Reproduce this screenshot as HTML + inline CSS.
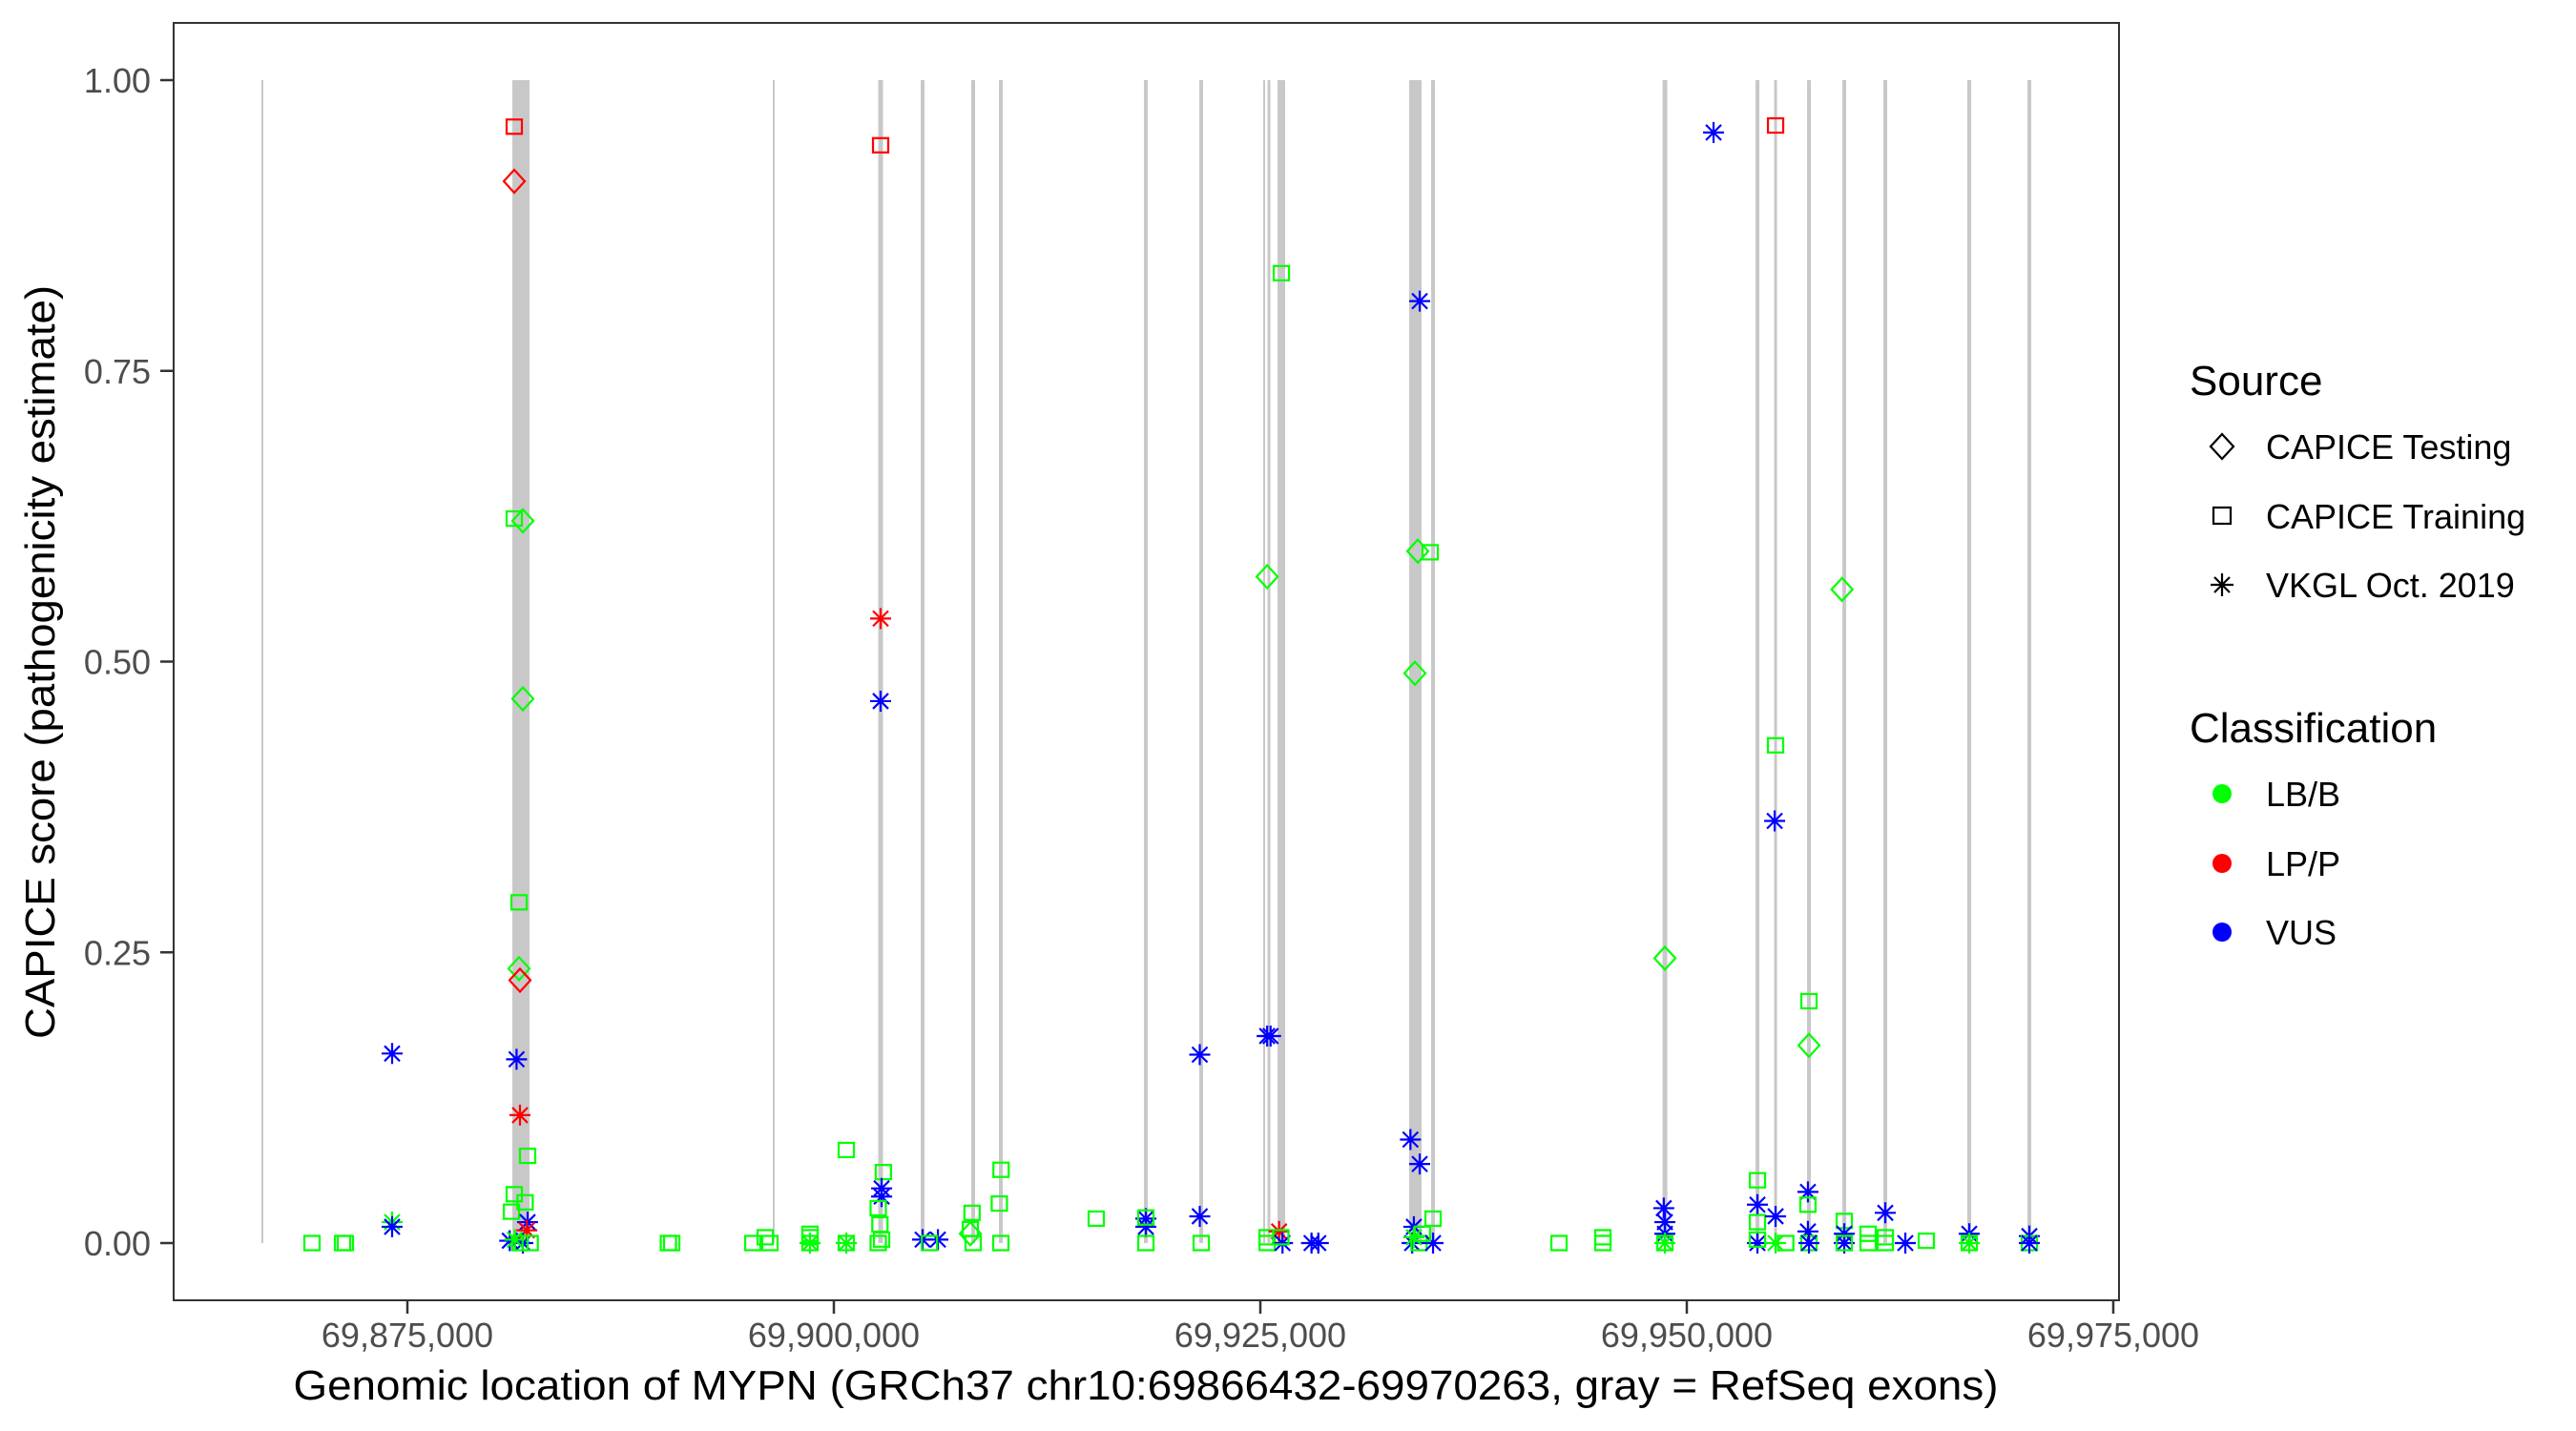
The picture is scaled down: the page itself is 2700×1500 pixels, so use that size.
<!DOCTYPE html>
<html><head><meta charset="utf-8">
<style>
html,body{margin:0;padding:0;background:#fff;}
svg{display:block;font-family:"Liberation Sans",Arial,sans-serif;}
</style></head>
<body>
<svg id="chart" xmlns="http://www.w3.org/2000/svg" width="2700" height="1500" viewBox="0 0 2700 1500">
<rect x="0" y="0" width="2700" height="1500" fill="#fff"/>
<g id="exons"></g>
<g id="points"></g>
<rect x="182" y="24" width="2039" height="1339" fill="none" stroke="#333333" stroke-width="2"/>
<g id="axes"></g>
<text x="1201" y="1467" font-size="44" text-anchor="middle" textLength="1787" lengthAdjust="spacingAndGlyphs" fill="#000">Genomic location of MYPN (GRCh37 chr10:69866432-69970263, gray = RefSeq exons)</text>
<text transform="translate(57,694) rotate(-90)" x="0" y="0" font-size="44" text-anchor="middle" textLength="790" lengthAdjust="spacingAndGlyphs" fill="#000">CAPICE score (pathogenicity estimate)</text>
<g id="legend">
  <text x="2295" y="414" font-size="44" fill="#000">Source</text>
  <g>
    <polygon points="2329,455 2341,468 2329,481 2317,468" fill="none" stroke="#000" stroke-width="2.2"/>
    <text x="2375" y="481" font-size="36" fill="#000">CAPICE Testing</text>
  </g>
  <g>
    <rect x="2320" y="532" width="18" height="17" fill="none" stroke="#000" stroke-width="2.2"/>
    <text x="2375" y="554" font-size="36" fill="#000">CAPICE Training</text>
  </g>
  <g>
    <path d="M2317,613H2341M2329,601V625M2321,605L2337,621M2337,605L2321,621" stroke="#000" stroke-width="2.2"/>
    <text x="2375" y="626" font-size="36" fill="#000">VKGL Oct. 2019</text>
  </g>
  <text x="2295" y="778" font-size="44" fill="#000">Classification</text>
  <g>
    <circle cx="2329" cy="832" r="10" fill="#00ff00"/>
    <text x="2375" y="845" font-size="36" fill="#000">LB/B</text>
  </g>
  <g>
    <circle cx="2329" cy="905" r="10" fill="#ff0000"/>
    <text x="2375" y="918" font-size="36" fill="#000">LP/P</text>
  </g>
  <g>
    <circle cx="2329" cy="977" r="10" fill="#0000ff"/>
    <text x="2375" y="990" font-size="36" fill="#000">VUS</text>
  </g>
</g>
</svg>
<script>
const xTicks = [69875000, 69900000, 69925000, 69950000, 69975000];
const xTickLabels = ["69,875,000", "69,900,000", "69,925,000", "69,950,000", "69,975,000"];
const yTicks = [0, 0.25, 0.5, 0.75, 1.0];
const yTickLabels = ["0.00", "0.25", "0.50", "0.75", "1.00"];
const exonStarts = [69866443,69881152,69896421,69902601,69905090,69908054,69909676,69918178,69921422,69925169,69925421,69926007,69933727,69935013,69948576,69954029,69955120,69957049,69959119,69961524,69966446,69969969];
const exonEnds   = [69866555,69882159,69896533,69902881,69905314,69908278,69909900,69918402,69921646,69925281,69925589,69926456,69934454,69935237,69948856,69954253,69955288,69957273,69959343,69961748,69966670,69970193];
const pointPos = [69869407,69871365,69871200,69874105,69874105,69874105,69881264,69881264,69881264,69881768,69881768,69881544,69881544,69881600,69881400,69881600,69882047,69881264,69881900,69881100,69882047,69882000,69881000,69881768,69881600,69882200,69881300,69890493,69890300,69895247,69895974,69896253,69898602,69898602,69898602,69898602,69900728,69900728,69900728,69902741,69902741,69902741,69902900,69902800,69902800,69902600,69902700,69902600,69902800,69905202,69906100,69905600,69908000,69908100,69908166,69908000,69909800,69909700,69909788,69915381,69918290,69918290,69918290,69918290,69921450,69921450,69921534,69925400,69925600,69925400,69925400,69925400,69926232,69926100,69926300,69926200,69928000,69928400,69934342,69934230,69934957,69934062,69933800,69934342,69934000,69933900,69934300,69934000,69935125,69935125,69934500,69942508,69945080,69945080,69948716,69948650,69948716,69948716,69948716,69948716,69951568,69954141,69954141,69954141,69954141,69954141,69955204,69955204,69955150,69955204,69955204,69955800,69957161,69957161,69957100,69957100,69957100,69957161,69957161,69959100,69959231,69959231,69959231,69959231,69960629,69960629,69961636,69961636,69961636,69962810,69964041,69966558,69966558,69966558,69970081,69970081,69970081];
const pointScore = [0,0,0,0.018,0.014,0.163,0.960,0.913,0.623,0.621,0.468,0.293,0.236,0.226,0.158,0.110,0.075,0.042,0.035,0.027,0.018,0.011,0.002,0,0,0,0.003,0,0,0,0.005,0,0,0.005,0.008,0,0,0,0.080,0.944,0.537,0.466,0.061,0.047,0.040,0.030,0.016,0,0.003,0.003,0.003,0,0.008,0.026,0,0.012,0.063,0.034,0,0.021,0.021,0.014,0,0.022,0.162,0.023,0,0.178,0.178,0.573,0.005,0,0.834,0.010,0,0.005,0,0,0.810,0.595,0.594,0.490,0.089,0.068,0.014,0,0,0.005,0.021,0,0.008,0,0.005,0,0.245,0.030,0.018,0.008,0,0,0.955,0.054,0.033,0.018,0,0.003,0.961,0.428,0.363,0.023,0,0,0.208,0.170,0.044,0.033,0.010,0,0,0.562,0.019,0.008,0,0,0.008,0,0.026,0.005,0,0,0.002,0.008,0,0,0.006,0,0];
const pointSource = [
 "R","R","R","V","V","V","R","T","R","T",
 "T","R","T","T","V","V","R","R","R","R",
 "V","V","V","V","R","R","V","R","R","R",
 "R","R","R","R","R","V","R","V","R","R",
 "V","V","R","V","V","R","R","R","R","V",
 "V","R","T","R","R","R","R","R","R","R",
 "V","V","R","R","V","V","R","V","V","T",
 "R","R","R","V","V","R","V","V","V","T",
 "R","T","V","V","V","V","R","V","R","V",
 "R","R","R","R","T","V","V","V","V","R",
 "V","R","V","R","V","R","R","R","V","V",
 "V","R","R","T","V","R","V","R","V","T",
 "R","V","V","R","R","R","V","R","R","V",
 "R","V","V","R","V","R","V"];
const pointClass = [
 "G","G","G","G","B","B","R","R","G","G",
 "G","G","G","R","B","R","G","G","G","G",
 "B","R","B","B","G","G","G","G","G","G",
 "G","G","G","G","G","G","G","G","G","R",
 "R","B","G","B","B","G","G","G","G","B",
 "B","G","G","G","G","G","G","G","G","G",
 "B","B","G","G","B","B","G","B","B","G",
 "G","G","G","R","B","G","B","B","B","G",
 "G","G","B","B","B","B","G","G","G","B",
 "G","G","G","G","G","B","B","B","G","G",
 "B","G","B","G","B","G","R","G","B","B",
 "G","G","G","G","B","G","B","G","B","G",
 "G","B","B","G","G","G","B","G","G","B",
 "G","B","G","G","B","G","B"];
const sourceNames = {T:"capice-testing", R:"capice-training", V:"vkgl"};
const classColors = {G:"#00ff00", R:"#ff0000", B:"#0000ff"};

const X = g => 427 + (g - 69875000) * 0.01788;
const Y = s => 1303 - s * 1219;
const NS = "http://www.w3.org/2000/svg";
function mk(tag, attrs, parent){
  const e = document.createElementNS(NS, tag);
  for (const k in attrs) e.setAttribute(k, attrs[k]);
  parent.appendChild(e); return e;
}
const exG = document.getElementById("exons");
for (let i = 0; i < exonStarts.length; i++) {
  const x0 = X(exonStarts[i]), x1 = X(exonEnds[i]);
  const r = mk("rect", {x: x0, y: Y(1), width: Math.max(2, x1 - x0), height: Y(0) - Y(1), fill: "#c8c8c8"}, exG);
  
  
}
const ax = document.getElementById("axes");
for (let i = 0; i < xTicks.length; i++) {
  const x = X(xTicks[i]);
  const t = mk("line", {x1: x, x2: x, y1: 1363, y2: 1377, stroke: "#333333", "stroke-width": 2.5}, ax);
  
  
  const l = mk("text", {x: x, y: 1412, "font-size": 36, fill: "#4d4d4d", "text-anchor": "middle"}, ax);
  l.textContent = xTickLabels[i];
  
  
}
for (let i = 0; i < yTicks.length; i++) {
  const y = Y(yTicks[i]);
  const t = mk("line", {x1: 168, x2: 182, y1: y, y2: y, stroke: "#333333", "stroke-width": 2.5}, ax);
  
  
  const l = mk("text", {x: 158, y: y + 13, "font-size": 36, fill: "#4d4d4d", "text-anchor": "end"}, ax);
  l.textContent = yTickLabels[i];
  
  
}
const pg = document.getElementById("points");
for (let i = 0; i < pointPos.length; i++) {
  const x = X(pointPos[i]), y = Y(pointScore[i]);
  const c = classColors[pointClass[i]];
  const s = pointSource[i];
  let el;
  if (s === "T") {
    el = mk("polygon", {points: `${x},${y-12} ${x+11},${y} ${x},${y+12} ${x-11},${y}`, fill: "none", stroke: c, "stroke-width": 2.2}, pg);
  } else if (s === "R") {
    el = mk("rect", {x: x - 8, y: y - 7.5, width: 16, height: 15, fill: "none", stroke: c, "stroke-width": 2.2}, pg);
  } else {
    el = mk("path", {d: `M${x-11},${y}H${x+11}M${x},${y-11}V${y+11}M${x-8},${y-8}L${x+8},${y+8}M${x+8},${y-8}L${x-8},${y+8}`, stroke: c, "stroke-width": 2.2}, pg);
  }
  
  
}
</script>
</body></html>
